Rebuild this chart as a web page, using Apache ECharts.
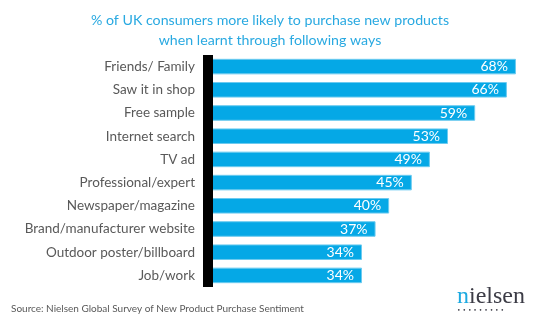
<!DOCTYPE html>
<html>
<head>
<meta charset="utf-8">
<script src="https://cdn.jsdelivr.net/npm/echarts@6/dist/echarts.min.js"></script>
<style>html,body{margin:0;padding:0;background:#fff}#c{width:540px;height:327px}</style>
</head>
<body>
<div id="c"></div>
<script>
const categories = ["Friends/ Family","Saw it in shop","Free sample","Internet search","TV ad","Professional/expert","Newspaper/magazine","Brand/manufacturer website","Outdoor poster/billboard","Job/work"];
const values = [68,66,59,53,49,45,40,37,34,34];
const titleText = "% of UK consumers more likely to purchase new products\nwhen learnt through following ways";
const sourceText = "Source: Nielsen Global Survey of New Product Purchase Sentiment";

const chart = echarts.init(document.getElementById('c'), null, {renderer:'canvas'});
const F = 'Lato, "Open Sans", sans-serif';
chart.setOption({
  animation: false,
  title: {
    text: titleText, left: 'center', top: 5,
    textStyle: {color:'#29A9E1', fontSize:14.2, fontWeight:'normal', fontFamily:F, lineHeight:20}
  },
  grid: {left:208, right:15, top:55, bottom:40},
  xAxis: {type:'value', min:0, max:70, show:false},
  yAxis: {
    type:'category', data:categories, inverse:true, z:10,
    axisLine:{show:true, lineStyle:{color:'#000', width:10, cap:'butt'}},
    axisTick:{show:false},
    axisLabel:{color:'#595959', fontSize:13.5, fontFamily:F, margin:13}
  },
  series: [{
    type:'bar', data:values, barCategoryGap:'33%',
    itemStyle:{color:'#05A8E6', borderColor:'#6CCBF0', borderWidth:1},
    label:{show:true, position:'insideRight', distance:8, color:'#fff', fontSize:14, fontFamily:F, formatter:'{c}%'}
  }],
  graphic: [
    {type:'text', left:11, top:304, style:{text:sourceText, fill:'#595959', fontSize:10, fontFamily:F}},
    {type:'text', left:457, top:285, style:{
      text:'{a|n}{b|ielsen}', rich:{
        a:{fill:'#1BA9E1', fontSize:24, fontFamily:'"Liberation Serif", serif'},
        b:{fill:'#3C3C46', fontSize:24, fontFamily:'"Liberation Serif", serif'}
      }}},
    {type:'text', left:457, top:307, style:{text:'• • • • • • • • •', fill:'#3C3C46', fontSize:6, fontFamily:'DejaVu Sans'}}
  ]
});
</script>
</body>
</html>
